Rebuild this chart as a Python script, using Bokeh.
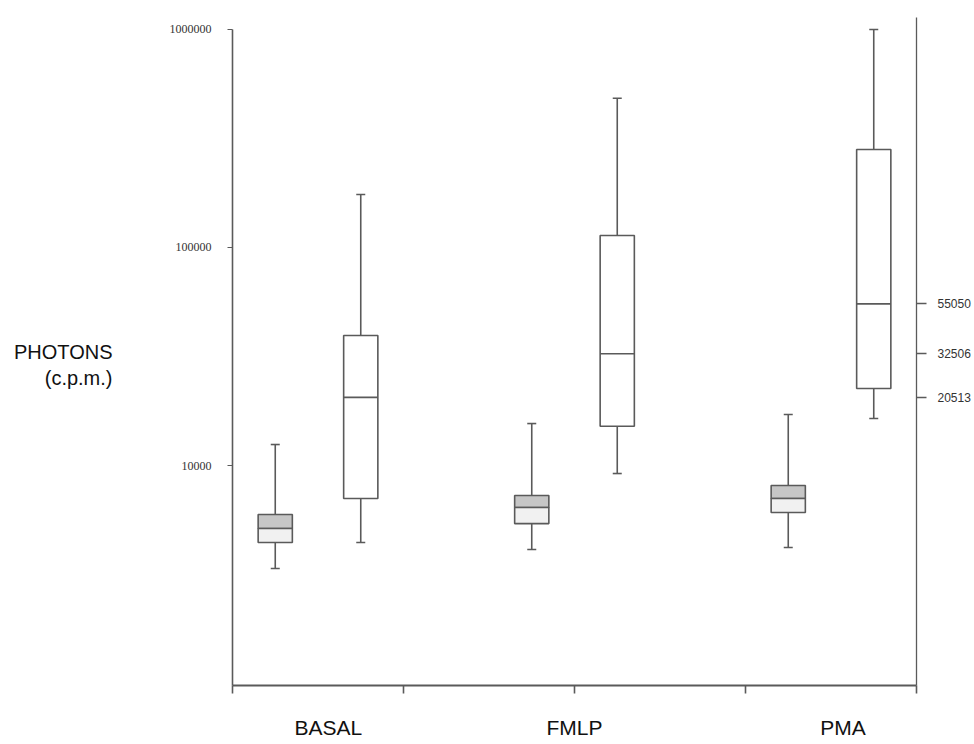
from bokeh.plotting import figure
from bokeh.models import LogAxis, FixedTicker, PrintfTickFormatter, Range1d
from bokeh.embed import file_html
from bokeh.resources import INLINE

# ---------------- data ----------------
categories = ["BASAL", "FMLP", "PMA"]
category_centers = [0.5, 2.0, 3.5]
category_label_pos = [0.56, 2.0, 3.57]
x_ticks = [0, 1, 2, 3, 4]

# grey (left) boxes
grey_low = [3375, 4120, 4210]
grey_q1 = [4440, 5420, 6090]
grey_median = [5145, 6420, 7060]
grey_q3 = [5965, 7290, 8100]
grey_high = [12480, 15570, 17130]

# white (right) boxes
white_low = [4440, 9190, 16420]
white_q1 = [7060, 15140, 22530]
white_median = [20513, 32506, 55050]
white_q3 = [39400, 113200, 280500]
white_high = [174500, 482000, 995000]

left_ticks = [10000, 100000, 1000000]
right_ticks = white_median

y_start, y_end = 982, 1.129e6
box_width = 0.2
offset = 0.25
LINE = "#5a5a5a"
LW = 1.6

grey_x = [c - offset for c in category_centers]
white_x = [c + offset for c in category_centers]

p = figure(width=974, height=742, y_axis_type="log",
           x_range=Range1d(0, 4), y_range=Range1d(y_start, y_end),
           output_backend="svg", toolbar_location=None,
           min_border_left=232, min_border_right=58,
           min_border_top=17, min_border_bottom=57)
p.xgrid.visible = False
p.ygrid.visible = False
p.outline_line_color = None
p.background_fill_color = "white"

# whiskers
for xs, lo, q1, q3, hi in [(grey_x, grey_low, grey_q1, grey_q3, grey_high),
                           (white_x, white_low, white_q1, white_q3, white_high)]:
    p.segment(x0=xs, y0=q3, x1=xs, y1=hi, line_color=LINE, line_width=LW)
    p.segment(x0=xs, y0=lo, x1=xs, y1=q1, line_color=LINE, line_width=LW)
    p.scatter(x=xs, y=hi, marker="dash", size=9, line_color=LINE, line_width=LW)
    p.scatter(x=xs, y=lo, marker="dash", size=9, line_color=LINE, line_width=LW)

# grey boxes: upper half darker, lower half lighter
p.vbar(x=grey_x, width=box_width, bottom=grey_median, top=grey_q3,
       fill_color="#c6c6c6", line_color=LINE, line_width=LW)
p.vbar(x=grey_x, width=box_width, bottom=grey_q1, top=grey_median,
       fill_color="#f1f1f1", line_color=LINE, line_width=LW)

# white boxes
p.vbar(x=white_x, width=box_width, bottom=white_q1, top=white_q3,
       fill_color="white", line_color=LINE, line_width=LW)
p.segment(x0=[x - box_width / 2 for x in white_x], y0=white_median,
          x1=[x + box_width / 2 for x in white_x], y1=white_median,
          line_color=LINE, line_width=LW)

# left axis
ya = p.yaxis[0]
ya.ticker = FixedTicker(ticks=left_ticks)
ya.formatter = PrintfTickFormatter(format="%d")
ya.bounds = (y_start, 1000000)
ya.major_label_text_font = "Liberation Serif"
ya.major_label_text_font_size = "12px"
ya.major_label_text_color = "#333333"
ya.major_tick_out = 5
ya.major_tick_in = 0
ya.minor_tick_line_color = None
ya.major_tick_line_color = LINE
ya.major_label_standoff = 16
ya.axis_line_color = LINE
ya.axis_line_width = LW
# leading empty line moves the two-line title down to its place
ya.axis_label = "\nPHOTONS\n(c.p.m.)"
ya.axis_label_orientation = "horizontal"
ya.axis_label_standoff = 54
ya.axis_label_text_font = "Liberation Sans"
ya.axis_label_text_font_style = "normal"
ya.axis_label_text_font_size = "20px"
ya.axis_label_text_color = "#111111"

# bottom axis
xa = p.xaxis[0]
xa.ticker = FixedTicker(ticks=category_label_pos, minor_ticks=x_ticks)
xa.major_label_overrides = {pos: name for pos, name in zip(category_label_pos, categories)}
xa.major_tick_out = 0
xa.major_tick_in = 0
xa.major_tick_line_color = None
xa.minor_tick_out = 8
xa.minor_tick_in = 0
xa.minor_tick_line_color = LINE
xa.minor_tick_line_width = LW
xa.axis_line_color = LINE
xa.axis_line_width = 2
xa.major_label_standoff = 22
xa.major_label_text_font = "Liberation Sans"
xa.major_label_text_font_size = "21px"
xa.major_label_text_color = "#111111"

# right axis with the medians
ra = LogAxis(ticker=FixedTicker(ticks=right_ticks),
             formatter=PrintfTickFormatter(format="%d"))
ra.major_tick_out = 10
ra.major_tick_in = 0
ra.minor_tick_line_color = None
ra.major_tick_line_color = LINE
ra.major_tick_line_width = LW
ra.axis_line_color = LINE
ra.axis_line_width = 1.3
ra.major_label_standoff = 11
ra.major_label_text_font = "Liberation Sans"
ra.major_label_text_font_size = "12px"
ra.major_label_text_color = "#333333"
p.add_layout(ra, "right")

open("out.html", "w").write(file_html(p, INLINE))
